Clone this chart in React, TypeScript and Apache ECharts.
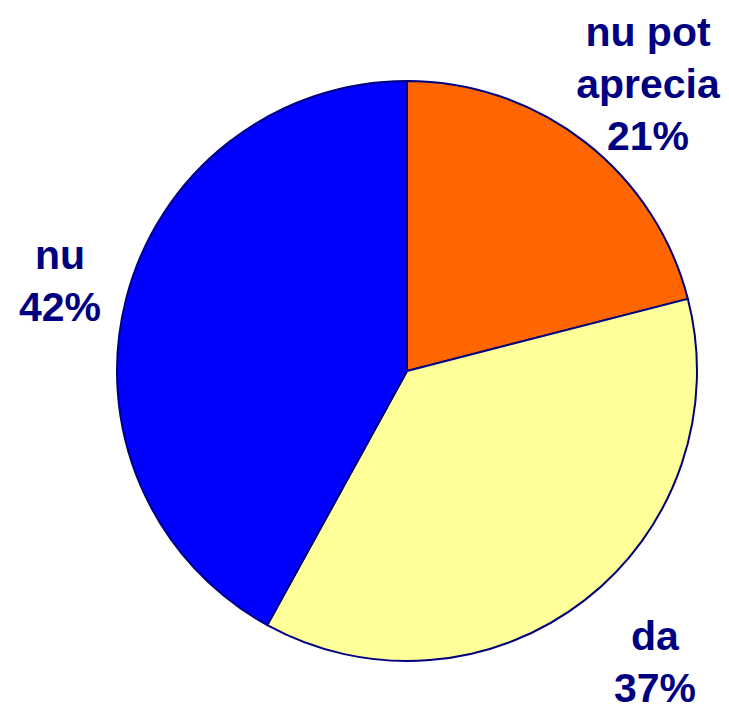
import React, { useEffect, useRef } from "react";
import * as echarts from "echarts";

const categories = ["nu pot aprecia", "da", "nu"];
const values = [21, 37, 42];
const colors = ["#FF6600", "#FFFF99", "#0000FF"];
const labelPositions = [
  [648, 84],
  [655, 662],
  [60, 281],
];

function wrapName(name: string): string {
  if (name.length > 8) {
    const i = name.lastIndexOf(" ");
    return name.slice(0, i) + "\n" + name.slice(i + 1);
  }
  return name;
}

export default function App() {
  const ref = useRef<HTMLDivElement>(null);
  useEffect(() => {
    document.body.style.margin = "0";
    const chart = echarts.init(ref.current!, null, { renderer: "svg" });
    chart.setOption({
      animation: false,
      backgroundColor: "#ffffff",
      series: [
        {
          type: "pie",
          center: [407, 371],
          radius: 290,
          startAngle: 90,
          clockwise: true,
          silent: true,
          itemStyle: { borderColor: "#000080", borderWidth: 2 },
          label: {
            show: true,
            position: "outside",
            alignTo: "none",
            overflow: "none",
            width: 300,
            formatter: (p: any) => wrapName(p.name) + "\n" + p.value + "%",
            color: "#000080",
            fontFamily: "'Liberation Sans', Arial, sans-serif",
            fontWeight: "bold",
            fontSize: 41,
            lineHeight: 52,
            align: "center",
          },
          labelLine: { show: false },
          labelLayout: (params: any) => {
            const pos = labelPositions[params.dataIndex];
            return { x: pos[0], y: pos[1], align: "center", verticalAlign: "middle" };
          },
          data: categories.map((c, i) => ({
            name: c,
            value: values[i],
            itemStyle: { color: colors[i] },
          })),
        },
      ],
    });
    return () => chart.dispose();
  }, []);
  return <div ref={ref} style={{ width: 729, height: 711 }} />;
}
